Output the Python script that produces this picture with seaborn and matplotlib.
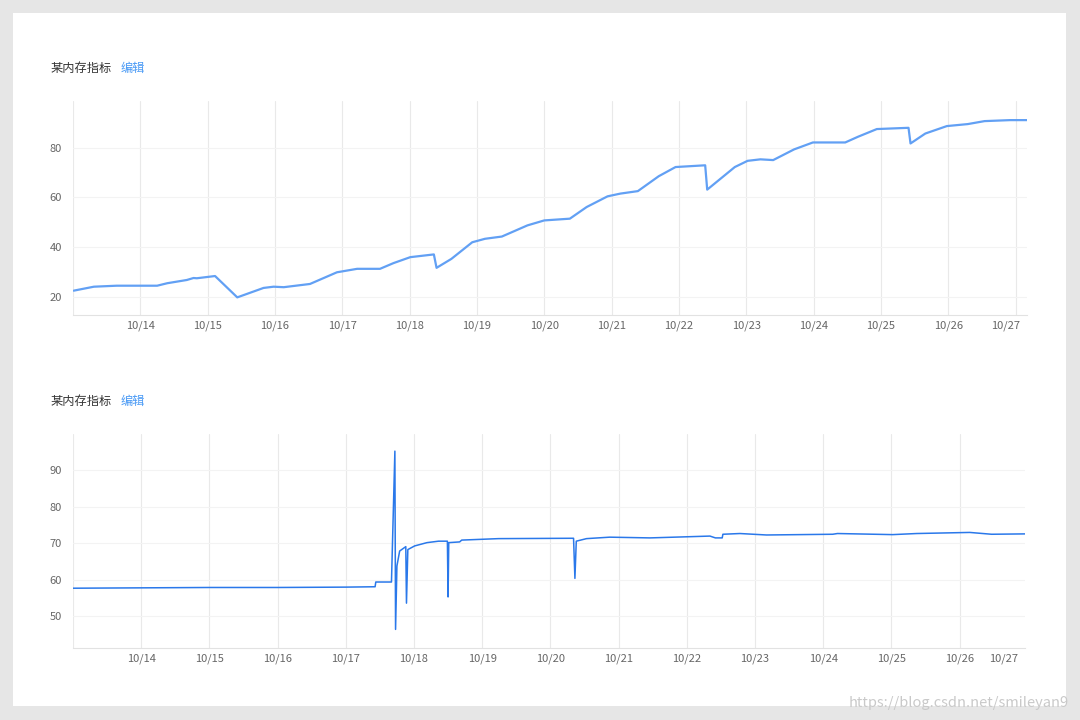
import matplotlib
matplotlib.use("Agg")
import matplotlib.pyplot as plt
import seaborn as sns
import pandas as pd
from matplotlib.patches import Rectangle

sns.set_theme(style="white")
plt.rcParams['font.family'] = ['Noto Sans CJK SC', 'DejaVu Sans']

# ---------------- data ----------------
title_text = "某内存指标"
edit_text = "编辑"
watermark = "https://blog.csdn.net/smileyan9"
date_labels = ["10/13", "10/14", "10/15", "10/16", "10/17", "10/18", "10/19", "10/20",
               "10/21", "10/22", "10/23", "10/24", "10/25", "10/26", "10/27"]

# days since 10/13 00:00
top_days = [0.01, 0.31, 0.65, 1.25, 1.40, 1.69, 1.79, 1.84, 2.11, 2.44, 2.83, 2.98, 3.13,
            3.52, 3.92, 4.07, 4.22, 4.56, 4.76, 5.01, 5.36, 5.40, 5.62, 5.93, 6.12, 6.37,
            6.75, 7.00, 7.38, 7.63, 7.94, 8.13, 8.39, 8.70, 8.95, 9.39, 9.42, 9.83, 10.02,
            10.21, 10.40, 10.71, 10.99, 11.47, 11.66, 11.94, 12.41, 12.44, 12.66, 12.98,
            13.29, 13.54, 13.92, 14.17]
top_vals = [22.4, 24.0, 24.4, 24.4, 25.4, 26.7, 27.5, 27.4, 28.3, 19.7, 23.5, 24.0, 23.8,
            25.1, 29.8, 30.5, 31.2, 31.2, 33.5, 35.9, 37.0, 31.6, 35.2, 41.9, 43.3, 44.2,
            48.7, 50.7, 51.4, 56.1, 60.4, 61.5, 62.5, 68.5, 72.2, 72.9, 63.1, 72.2, 74.7,
            75.3, 75.0, 79.3, 82.1, 82.1, 84.4, 87.5, 88.0, 81.7, 85.7, 88.7,
            89.5, 90.7, 91.1, 91.1]

bot_days = [0.0, 1.0, 2.0, 3.0, 4.0, 4.43, 4.44, 4.67, 4.72, 4.73, 4.75, 4.79, 4.88, 4.89,
            4.91, 5.01, 5.19, 5.36, 5.49, 5.50, 5.51, 5.67, 5.70, 6.24, 7.34, 7.36, 7.38,
            7.53, 7.87, 8.17, 8.46, 9.34, 9.42, 9.52, 9.53, 9.78, 10.17, 11.14, 11.21,
            12.02, 12.37, 13.15, 13.47, 13.96]
bot_vals = [57.7, 57.8, 57.9, 57.9, 58.0, 58.1, 59.4, 59.4, 95.3, 46.4, 63.8, 67.9, 69.1, 53.6,
            68.3, 69.3, 70.2, 70.6, 70.6, 55.3, 70.2, 70.4, 70.9, 71.3, 71.4, 60.4, 70.6,
            71.3, 71.7, 71.6, 71.5, 72.0, 71.5, 71.5, 72.5, 72.7, 72.3, 72.5, 72.7,
            72.4, 72.7, 73.0, 72.5, 72.6]

top_yticks = [20, 40, 60, 80]
bot_yticks = [50, 60, 70, 80, 90]

# ---------------- figure ----------------
W, H = 1080, 720
fig = plt.figure(figsize=(W / 100, H / 100), dpi=100, facecolor='#e6e6e6')
fig.patches.append(Rectangle((13 / W, 1 - 706 / H), (1066 - 13) / W, (706 - 13) / H,
                             transform=fig.transFigure, facecolor='white',
                             edgecolor='none', zorder=-5))


def px_axes(l, t, r, b):
    ax = fig.add_axes([l / W, 1 - b / H, (r - l) / W, (b - t) / H])
    ax.set_facecolor('none')
    ax.set_zorder(2)
    return ax


def style(ax, xmax, ylim, yticks):
    ax.set_xlim(0, xmax)
    ax.set_ylim(*ylim)
    ticks = [d for d in range(len(date_labels)) if d <= xmax]
    ax.set_xticks(ticks)
    ax.set_xticklabels([date_labels[d] if 0 < d < len(date_labels) - 1 else "" for d in ticks])
    ax.set_yticks(yticks)
    ax.set_yticklabels([str(v) for v in yticks])
    ax.set_axisbelow(True)
    ax.grid(axis='x', color='#e9e9e9', linewidth=0.8)
    ax.grid(axis='y', color='#f3f3f3', linewidth=0.8)
    for s in ['top', 'right', 'left']:
        ax.spines[s].set_visible(False)
    ax.spines['bottom'].set_color('#e2e2e2')
    ax.spines['bottom'].set_linewidth(0.8)
    ax.tick_params(axis='both', length=0, labelsize=8, labelcolor='#666666')
    ax.tick_params(axis='y', pad=8)
    ax.tick_params(axis='x', pad=4)
    ax.set_xlabel("")
    ax.set_ylabel("")
    ax.text(1 - 7 / ax.bbox.width, -5.5 / ax.bbox.height, date_labels[-1],
            transform=ax.transAxes, ha='right', va='top',
            fontsize=8, color='#666666')


# top chart
ax1 = px_axes(73, 101, 1027, 315)
sns.lineplot(x=top_days, y=top_vals, ax=ax1, color='#62a0f4', linewidth=1.6,
             estimator=None, sort=False)
style(ax1, 14.17, (12.6, 98.8), top_yticks)

# bottom chart
ax2 = px_axes(73, 434, 1025, 648)
sns.lineplot(x=bot_days, y=bot_vals, ax=ax2, color='#2a78ea', linewidth=1.1,
             estimator=None, sort=False)
style(ax2, 13.96, (41.3, 100.0), bot_yticks)

# titles
for yc in (68, 401):
    fig.text(51 / W, 1 - yc / H, title_text, ha='left', va='center', fontsize=8.8,
             color='#333333')
    fig.text(121 / W, 1 - yc / H, edit_text, ha='left', va='center', fontsize=8.8,
             color='#4a9af5')

fig.text(1069 / W, 1 - 703 / H, watermark, ha='right', va='center', fontsize=10.5,
         color='#c9c9c9')

fig.savefig("out.png", dpi=100, facecolor=fig.get_facecolor())
